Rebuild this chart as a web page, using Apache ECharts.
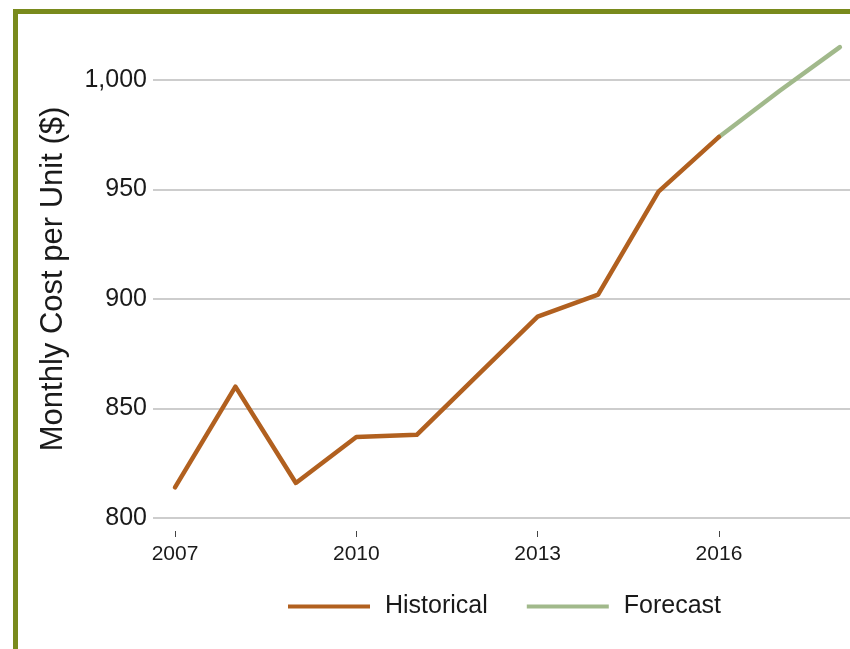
<!DOCTYPE html>
<html>
<head>
<meta charset="utf-8">
<script src="https://cdn.jsdelivr.net/npm/echarts@6/dist/echarts.min.js"></script>
<style>
html,body{margin:0;padding:0;background:#fff;}
#chart{width:850px;height:649px;}
</style>
</head>
<body>
<div id="chart"></div>
<script>
var histYears = [2007, 2008, 2009, 2010, 2011, 2012, 2013, 2014, 2015, 2016];
var histValues = [814, 860, 816, 837, 838, 865, 892, 902, 949, 974];
var foreYears = [2016, 2017, 2018];
var foreValues = [974, 995, 1015];
var xTicks = [2007, 2010, 2013, 2016];
var yTicks = [800, 850, 900, 950, 1000];

var FONT = '"Liberation Sans", Arial, Helvetica, sans-serif';
var chart = echarts.init(document.getElementById('chart'), null, {renderer: 'canvas'});

function pairs(xs, ys) { return xs.map(function (x, i) { return [x, ys[i]]; }); }

var option = {
  animation: false,
  backgroundColor: '#ffffff',
  grid: { left: 153, right: 0, top: 80, bottom: 131 },
  xAxis: {
    type: 'value',
    min: 2006.636,
    max: 2018.168,
    offset: 13,
    axisLine: { show: false },
    splitLine: { show: false },
    axisTick: { show: true, customValues: xTicks, length: 6, lineStyle: { color: '#444', width: 1 } },
    axisLabel: {
      customValues: xTicks,
      margin: 13,
      color: '#1a1a1a',
      fontFamily: FONT,
      fontSize: 21,
      formatter: function (v) { return String(v); }
    }
  },
  yAxis: {
    type: 'value',
    min: 800,
    max: 1000,
    interval: 50,
    axisLine: { show: false },
    axisTick: { show: false },
    splitLine: { show: true, lineStyle: { color: '#bdbdbd', width: 1.5 } },
    axisLabel: {
      margin: 6,
      color: '#1a1a1a',
      fontFamily: FONT,
      fontSize: 25,
      formatter: function (v) { return v.toLocaleString('en-US'); }
    }
  },
  legend: {
    left: 283,
    top: 589,
    itemWidth: 82,
    itemHeight: 4,
    itemGap: 39,
    icon: 'rect',
    textStyle: { fontFamily: FONT, fontSize: 25, color: '#1a1a1a', padding: [0, 0, 0, 10] },
    data: ['Historical', 'Forecast']
  },
  graphic: [
    { type: 'rect', shape: { x: 13, y: 9, width: 837, height: 5 }, style: { fill: '#798a1c' }, z: 100 },
    { type: 'rect', shape: { x: 13, y: 9, width: 5, height: 640 }, style: { fill: '#798a1c' }, z: 100 },
    {
      type: 'text', x: 53, y: 279, rotation: Math.PI / 2,
      style: { text: 'Monthly Cost per Unit ($)', fontFamily: FONT, fontSize: 31, fill: '#1a1a1a', align: 'center', verticalAlign: 'middle' }
    }
  ],
  series: [
    {
      name: 'Historical',
      type: 'line',
      data: pairs(histYears, histValues),
      showSymbol: false,
      symbol: 'none',
      clip: false,
      color: '#b1601f',
      lineStyle: { color: '#b1601f', width: 4.5, cap: 'round', join: 'round' },
      z: 3
    },
    {
      name: 'Forecast',
      type: 'line',
      data: pairs(foreYears, foreValues),
      showSymbol: false,
      symbol: 'none',
      clip: false,
      color: '#a1b98b',
      lineStyle: { color: '#a1b98b', width: 4.5, cap: 'round', join: 'round' },
      z: 2
    }
  ]
};
chart.setOption(option);
</script>
</body>
</html>
